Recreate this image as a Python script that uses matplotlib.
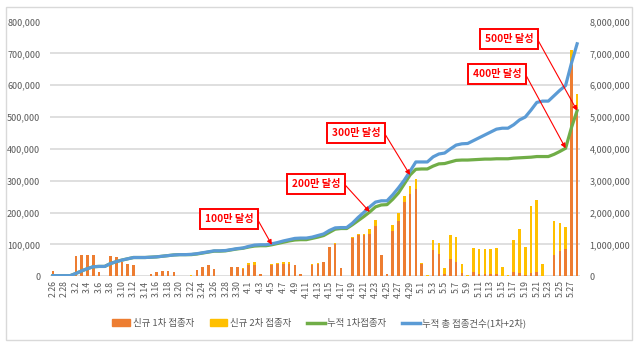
import matplotlib
matplotlib.use("Agg")
import matplotlib.pyplot as plt
from matplotlib.patches import Patch, Rectangle
from matplotlib.lines import Line2D
from matplotlib.ticker import FuncFormatter, MultipleLocator

plt.rcParams['font.family'] = ['Noto Sans CJK KR', 'DejaVu Sans']

dates = ['2.26', '2.27', '2.28',
         '3.1', '3.2', '3.3', '3.4', '3.5', '3.6', '3.7', '3.8', '3.9', '3.10',
         '3.11', '3.12', '3.13', '3.14', '3.15', '3.16', '3.17', '3.18', '3.19', '3.20',
         '3.21', '3.22', '3.23', '3.24', '3.25', '3.26', '3.27', '3.28', '3.29', '3.30', '3.31',
         '4.1', '4.2', '4.3', '4.4', '4.5', '4.6', '4.7', '4.8', '4.9', '4.10',
         '4.11', '4.12', '4.13', '4.14', '4.15', '4.16', '4.17', '4.18', '4.19', '4.20',
         '4.21', '4.22', '4.23', '4.24', '4.25', '4.26', '4.27', '4.28', '4.29', '4.30',
         '5.1', '5.2', '5.3', '5.4', '5.5', '5.6', '5.7', '5.8', '5.9', '5.10',
         '5.11', '5.12', '5.13', '5.14', '5.15', '5.16', '5.17', '5.18', '5.19', '5.20',
         '5.21', '5.22', '5.23', '5.24', '5.25', '5.26', '5.27', '5.28']

# daily new 1st-dose (thousands)
new_first_k = [18, 2, 0,
               0, 64, 68, 68, 68, 14, 0, 64, 61, 45,
               40, 35, 0, 0, 8, 14, 18, 18, 15, 0,
               0, 0, 20, 28, 34, 23, 0, 0, 28, 28, 24,
               37, 36, 7, 0, 36, 38, 40, 40, 35, 7,
               0, 37, 40, 44, 92, 102, 26, 2, 121, 131,
               131, 132, 158, 66, 6, 142, 174, 232, 258, 273,
               38, 2, 84, 71, 8, 55, 45, 9, 1, 12,
               7, 7, 7, 8, 2, 1, 14, 11, 5, 11,
               13, 2, 0, 68, 79, 87, 663, 531]

# daily new 2nd-dose (thousands)
new_second_k = [0, 0, 0,
                0, 0, 0, 0, 0, 0, 0, 0, 0, 0,
                0, 0, 0, 0, 0, 0, 0, 0, 0, 0,
                0, 3, 1, 1, 1, 1, 0, 0, 1, 1, 1,
                5, 8, 1, 0, 2, 3, 4, 4, 2, 1,
                0, 1, 2, 2, 1, 1, 1, 0, 1, 1,
                1, 15, 18, 1, 0, 19, 26, 20, 27, 31,
                4, 1, 31, 32, 19, 74, 78, 29, 2, 76,
                79, 79, 79, 81, 27, 2, 99, 139, 87, 210,
                226, 36, 0, 106, 89, 67, 47, 40]

# cumulative 1st-dose (millions)
cum_first_m = [0.02, 0.02, 0.02,
               0.02, 0.09, 0.17, 0.24, 0.30, 0.31, 0.31, 0.40, 0.46, 0.51,
               0.55, 0.59, 0.59, 0.59, 0.60, 0.61, 0.63, 0.65, 0.67, 0.68,
               0.68, 0.68, 0.70, 0.73, 0.76, 0.79, 0.79, 0.80, 0.83, 0.86, 0.88,
               0.92, 0.95, 0.96, 0.96, 0.99, 1.03, 1.07, 1.11, 1.14, 1.15,
               1.15, 1.19, 1.23, 1.28, 1.38, 1.48, 1.50, 1.50, 1.62, 1.75,
               1.88, 2.02, 2.18, 2.24, 2.25, 2.42, 2.62, 2.90, 3.18, 3.36,
               3.37, 3.37, 3.46, 3.53, 3.54, 3.59, 3.64, 3.65, 3.65, 3.66,
               3.67, 3.68, 3.68, 3.69, 3.69, 3.69, 3.71, 3.72, 3.73, 3.74,
               3.76, 3.76, 3.76, 3.83, 3.92, 4.02, 4.66, 5.20]

# cumulative total doses (millions)
cum_total_m = [0.02, 0.02, 0.02,
               0.02, 0.09, 0.17, 0.24, 0.30, 0.31, 0.31, 0.40, 0.46, 0.51,
               0.55, 0.59, 0.59, 0.59, 0.60, 0.61, 0.63, 0.65, 0.67, 0.68,
               0.68, 0.69, 0.71, 0.74, 0.77, 0.80, 0.80, 0.81, 0.84, 0.87, 0.89,
               0.94, 0.98, 0.99, 0.99, 1.02, 1.06, 1.11, 1.15, 1.19, 1.20,
               1.20, 1.23, 1.28, 1.33, 1.44, 1.52, 1.53, 1.53, 1.67, 1.85,
               2.01, 2.18, 2.33, 2.37, 2.37, 2.56, 2.78, 3.02, 3.30, 3.59,
               3.59, 3.59, 3.75, 3.84, 3.87, 4.00, 4.12, 4.16, 4.17, 4.26,
               4.35, 4.44, 4.53, 4.62, 4.65, 4.65, 4.76, 4.91, 5.00, 5.22,
               5.46, 5.50, 5.50, 5.67, 5.84, 5.99, 6.68, 7.30]

milestone_labels = ['100만 달성', '200만 달성', '300만 달성', '400만 달성', '500만 달성']
milestone_dates = ['4.5', '4.22', '4.29', '5.26', '5.28']

legend_labels = ['신규 1차 접종자', '신규 2차 접종자', '누적 1차접종자', '누적 총 접종건수(1차+2차)']

C_ORANGE = '#ED7D31'
C_YELLOW = '#FFC000'
C_GREEN = '#70AD47'
C_BLUE = '#5B9BD5'
TXT = '#595959'

W, H = 639, 345
fig = plt.figure(figsize=(W / 100, H / 100), dpi=100)
fig.patch.set_facecolor('white')

ax = fig.add_axes([50 / W, (H - 276.3) / H, 530 / W, (276.3 - 21.5) / H])
x = list(range(len(dates)))
first = [v * 1000 for v in new_first_k]
second = [v * 1000 for v in new_second_k]

ax.bar(x, first, width=0.45, color=C_ORANGE, zorder=2)
ax.bar(x, second, width=0.45, bottom=first, color=C_YELLOW, zorder=2)
ax.set_xlim(-0.5, len(dates) - 0.5)
ax.set_ylim(0, 800000)
ax.yaxis.set_major_locator(MultipleLocator(100000))
ax.yaxis.set_major_formatter(FuncFormatter(lambda v, p: f'{int(v):,}'))
ax.grid(axis='y', color='#d9d9d9', lw=1.2)
ax.set_axisbelow(True)
ax.set_xticks(x[::2])
ax.set_xticklabels(dates[::2], rotation=90, fontsize=6.3, color=TXT)
ax.tick_params(axis='x', length=0, pad=3)
ax.tick_params(axis='y', length=0, pad=7, labelsize=6.5, labelcolor=TXT)
for s in ax.spines.values():
    s.set_visible(False)

ax2 = ax.twinx()
cum1 = [v * 1e6 for v in cum_first_m]
cumt = [v * 1e6 for v in cum_total_m]
ax2.plot(x, cum1, color=C_GREEN, lw=2.3, solid_joinstyle='round', zorder=3)
ax2.plot(x, cumt, color=C_BLUE, lw=2.3, solid_joinstyle='round', zorder=4)
ax2.set_ylim(0, 8000000)
ax2.yaxis.set_major_locator(MultipleLocator(1000000))
ax2.yaxis.set_major_formatter(FuncFormatter(lambda v, p: f'{int(v):,}'))
ax2.tick_params(axis='y', length=0, pad=7, labelsize=6.5, labelcolor=TXT)
for s in ax2.spines.values():
    s.set_visible(False)

# milestone callouts
text_pos = [(229, H - 219), (316, H - 184), (356, H - 133), (497, H - 74), (509, H - 39)]
for lab, d, tp in zip(milestone_labels, milestone_dates, text_pos):
    i = dates.index(d)
    ax2.annotate(lab, xy=(i, cum1[i]), xytext=tp, textcoords='figure pixels',
                 ha='center', va='center', fontsize=7.3, fontweight='bold', color='#FF0000',
                 bbox=dict(boxstyle='square,pad=0.45', fc='white', ec='#FF0000', lw=1.4),
                 arrowprops=dict(arrowstyle='-|>', color='#FF0000', lw=0.8, mutation_scale=7,
                                 relpos=(1, 0.5), shrinkA=0, shrinkB=0,
                                 connectionstyle='arc,angleA=0,armA=4,angleB=0,armB=0,rad=0'),
                 zorder=6)

handles = [Patch(color=C_ORANGE), Patch(color=C_YELLOW),
           Line2D([0], [0], color=C_GREEN, lw=2.5), Line2D([0], [0], color=C_BLUE, lw=2.5)]
fig.legend(handles, legend_labels, loc='center', bbox_to_anchor=(0.5, (H - 323) / H), ncol=4,
           frameon=False, fontsize=6.8, handlelength=1.9, handleheight=0.7,
           columnspacing=1.6, handletextpad=0.3, labelcolor=TXT)

fig.patches.append(Rectangle((6 / W, (H - 340) / H), 626 / W, 333 / H, transform=fig.transFigure,
                             fill=False, ec='#d9d9d9', lw=1.0))

fig.savefig('out.png', dpi=100)
